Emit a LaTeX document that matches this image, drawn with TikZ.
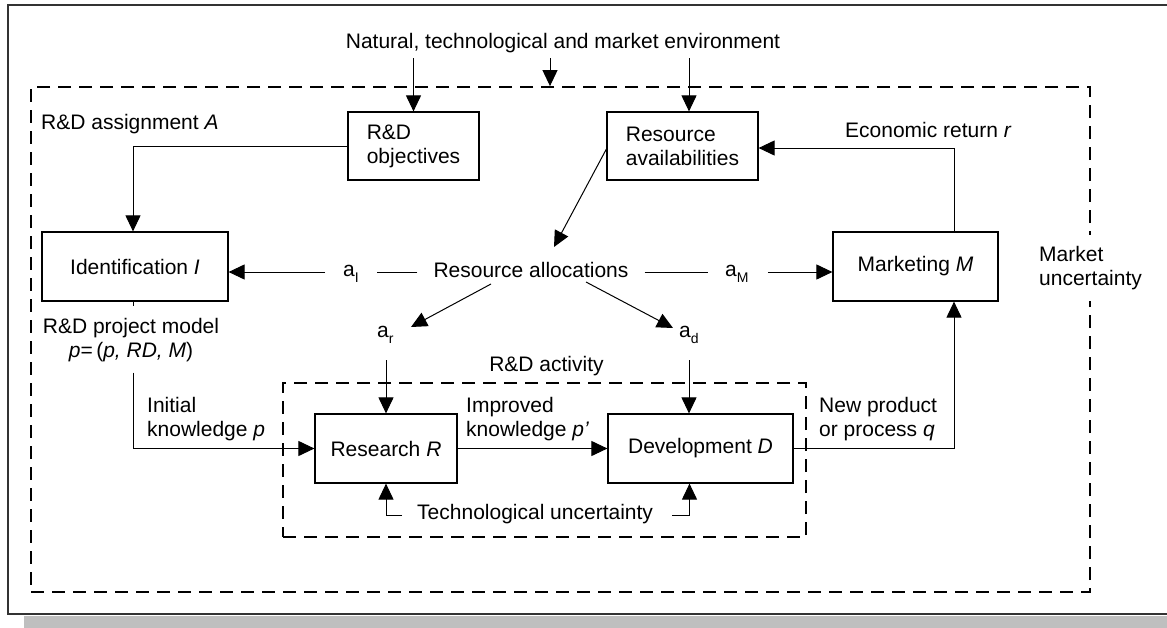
\documentclass[tikz,border=0pt]{standalone}
\usepackage{fontspec}
\setmainfont{Liberation Sans}
\usetikzlibrary{arrows.meta}
% lowered small subscript for the allocation labels
\newcommand{\lowsub}[1]{\raisebox{-6.5pt}{\fontsize{14}{14}\selectfont #1}}

\begin{document}
\begin{tikzpicture}[x=1pt,y=-1pt,
  every node/.style={font=\fontsize{21}{24}\selectfont, inner sep=0pt},
  block/.style={draw, line width=1.2pt},
  link/.style={line width=1pt},
  arr/.style={link, -{Triangle[length=16pt,width=15pt]}},
  zone/.style={draw, line width=1.8pt, dash pattern=on 13pt off 8pt},
]
\useasboundingbox (0,0) rectangle (1167,627);
\clip (0,0) rectangle (1167,627);
\fill[white] (0,0) rectangle (1167,627);

% page frame with shadow
\fill[black!25] (24,616) rectangle (1175,630);
\draw[line width=1.5pt, black!80] (1175,5) -- (8,5) -- (8,614) -- (1175,614);

% dashed regions
\node[zone, minimum width=1059pt, minimum height=505pt] (assign) at (560.5,339.5) {};
\node[zone, minimum width=523pt, minimum height=154pt] (act) at (544.5,460) {};

% boxes
\node[block, minimum width=131pt, minimum height=68pt, align=left] (obj) at (413.5,146) {R\&D\\objectives};
\node[block, minimum width=151pt, minimum height=68pt, align=left] (avail) at (682.5,146) {Resource\\availabilities};
\node[block, minimum width=186pt, minimum height=69pt] (ident) at (135,266.5) {Identification \textit{I}};
\node[block, minimum width=165pt, minimum height=69pt] (mkt) at (915.5,266.5) {Marketing \textit{M}};
\node[block, minimum width=142pt, minimum height=69pt] (res) at (386,448.5) {Research \textit{R}};
\node[block, minimum width=185pt, minimum height=69pt] (dev) at (700.5,448.5) {Development \textit{D}};

% labels
\node[anchor=base] (env) at (563,48) {Natural, technological and market environment};
\node[anchor=base west] (assignlbl) at (41,129) {R\&D assignment \textit{A}};
\node[anchor=base west] (ret) at (845,137) {Economic return \textit{r}};
\node[anchor=base] (alloc) at (531,277) {Resource allocations};
\node[anchor=base west] (aI) at (343,276) {a\lowsub{I}};
\node[anchor=base west] (aM) at (725,276) {a\lowsub{M}};
\node[anchor=base west] (ar) at (377,337) {a\lowsub{r}};
\node[anchor=base west] (ad) at (679,337) {a\lowsub{d}};
\node[anchor=base] (actlbl) at (546.5,371) {R\&D activity};
\node[anchor=north, align=center] (model) at (131,318) {R\&D project model\\\textit{p}=\,(\textit{p, RD, M})};
\node[anchor=north west, align=left] (init) at (147,397) {Initial\\knowledge \textit{p}};
\node[anchor=north west, align=left] (impr) at (466,397) {Improved\\knowledge \textit{p’}};
\node[anchor=north west, align=left] (newp) at (819,397) {New product\\or process \textit{q}};
\node[anchor=base west] (tech) at (417,519) {Technological uncertainty};
\node[anchor=north west, align=left, fill=white, inner xsep=2pt, inner ysep=11pt] (munc) at (1037,235) {Market\\uncertainty};

% environment inputs
\coordinate (envbot) at ([shift={(0,10)}]env.base);
\coordinate (envmid) at ([shift={(-13,10)}]env.base);
\coordinate (availin) at ([shift={(6.5,0)}]avail.north);
\draw[arr] (obj.north |- envbot) -- (obj.north);
\draw[arr] (envmid) -- (envmid |- assign.north);
\draw[arr] (availin |- envbot) -- (availin);

% objectives to identification
\coordinate (identin) at ([shift={(-2,0)}]ident.north);
\draw[arr] (obj.west) -| (identin);

% resources to allocations
\draw[arr] ([shift={(0,3)}]avail.west) -- ([shift={(23,-30)}]alloc.base);

% economic return loop
\coordinate (mktup) at ([shift={(38.5,0)}]mkt.north);
\coordinate (mktdn) at ([shift={(38.5,0)}]mkt.south);
\draw[arr] (mktup) |- ([shift={(0,2)}]avail.east);
\draw[arr] (dev.east) -| (mktdn);

% allocations to identification and marketing
\draw[link] ([shift={(-16,-5)}]alloc.base west) -- ([shift={(18,-4)}]aI.base east);
\coordinate (aIout) at ([shift={(-18,-4)}]aI.base west);
\draw[arr] (aIout) -- (aIout -| ident.east);
\draw[link] ([shift={(16,-5)}]alloc.base east) -- ([shift={(-17,-4)}]aM.base west);
\coordinate (aMout) at ([shift={(19,-4)}]aM.base east);
\draw[arr] (aMout) -- (aMout -| mkt.west);

% allocations to research and development
\draw[arr] ([shift={(-40,7)}]alloc.base) -- ([shift={(34,-10)}]ar.base west);
\draw[arr] ([shift={(55,5)}]alloc.base) -- ([shift={(-6,-9)}]ad.base west);
\coordinate (arout) at ([shift={(9,23)}]ar.base west);
\draw[arr] (arout) -- (arout |- res.north);
\coordinate (adout) at ([shift={(10,23)}]ad.base west);
\draw[arr] (adout) -- (adout |- dev.north);

% project model to research, research to development
\draw[link] ([shift={(-2,0)}]ident.south) -- ([shift={(-2,4)}]ident.south);
\draw[arr] ([shift={(-2,71)}]ident.south) |- (res.west);
\draw[arr] (res.east) -- (dev.west);

% technological uncertainty
\coordinate (devin) at ([shift={(-11,0)}]dev.south);
\draw[arr] ([shift={(-15,-4)}]tech.base west) -| (res.south);
\draw[arr] ([shift={(19,-4)}]tech.base east) -| (devin);
\end{tikzpicture}
\end{document}
